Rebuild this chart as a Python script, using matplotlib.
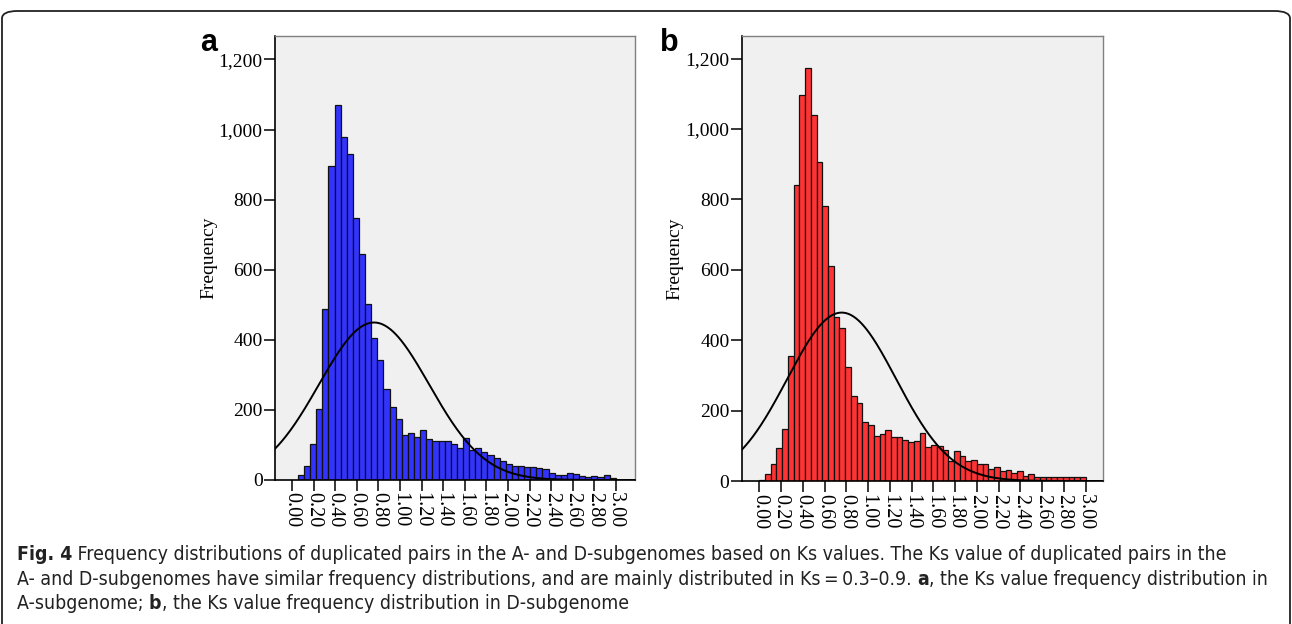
import numpy as np
import matplotlib
matplotlib.use('Agg')
import matplotlib.pyplot as plt
from matplotlib.patches import FancyBboxPatch

# Ks histograms (counts)
start_a = 0.055
width_a = 0.0566
counts_a = [14, 39, 104, 203, 487, 895, 1071, 978, 931, 747, 644, 502, 405, 343,
            260, 208, 175, 128, 135, 124, 143, 117, 110, 110, 110, 103, 92, 121,
            86, 90, 81, 70, 62, 55, 45, 41, 41, 36, 36, 33, 30, 21, 15, 15, 19,
            16, 12, 9, 10, 8, 14, 7]
mean_a = 0.76
sd_a = 0.51

start_b = 0.0
width_b = 3.0 / 57
counts_b = [4, 20, 48, 93, 149, 355, 842, 1096, 1172, 1039, 907, 780, 612, 466,
            434, 323, 242, 222, 168, 158, 128, 133, 145, 126, 126, 116, 112, 114,
            137, 97, 101, 99, 88, 56, 85, 71, 56, 60, 48, 48, 35, 41, 27, 31, 24,
            27, 15, 21, 12, 10, 10, 10, 12, 10, 10, 10, 10]
mean_b = 0.757
sd_b = 0.50

xticks = np.round(np.arange(0, 3.01, 0.2), 2)
yticks = [0, 200, 400, 600, 800, 1000, 1200]

caption = [
    [("Fig. 4", True), (" Frequency distributions of duplicated pairs in the A- and D-subgenomes based on Ks values. The Ks value of duplicated pairs in the", False)],
    [("A- and D-subgenomes have similar frequency distributions, and are mainly distributed in Ks\u2009=\u20090.3\u20130.9. ", False), ("a", True), (", the Ks value frequency distribution in", False)],
    [("A-subgenome; ", False), ("b", True), (", the Ks value frequency distribution in D-subgenome", False)],
]

W, H = 1292, 624
fig = plt.figure(figsize=(W / 100, H / 100), dpi=100)
serif = ['Liberation Serif', 'DejaVu Serif']


def panel(rect, start, width, counts, mu, sd, color, xlim, ylim, labx):
    ax = fig.add_axes(rect)
    ax.set_facecolor('#f0f0f0')
    edges = start + width * np.arange(len(counts))
    ax.bar(edges, counts, width=width, align='edge', color=color,
           edgecolor='#111111', linewidth=0.9, zorder=2)
    xs = np.linspace(xlim[0], xlim[1], 400)
    n = sum(counts)
    ys = n * width / (sd * np.sqrt(2 * np.pi)) * np.exp(-(xs - mu) ** 2 / (2 * sd ** 2))
    ax.plot(xs, ys, color='black', linewidth=1.4, zorder=3)
    ax.set_xlim(xlim)
    ax.set_ylim(ylim)
    ax.set_xticks(xticks)
    ax.set_xticklabels(['%.2f' % v for v in xticks], rotation=270,
                       family=serif, fontsize=14.5)
    ax.set_yticks(yticks)
    ax.set_yticklabels(['{:,}'.format(v) for v in yticks], family=serif, fontsize=14)
    ax.tick_params(axis='both', direction='out', length=8, width=1.1, pad=1, color='black')
    for s in ['left', 'bottom']:
        ax.spines[s].set_color('black')
        ax.spines[s].set_linewidth(1.2)
    for s in ['top', 'right']:
        ax.spines[s].set_color('#808080')
        ax.spines[s].set_linewidth(1.0)
    ax.set_ylabel('Frequency', family=serif, fontsize=14)
    ax.yaxis.set_label_coords(labx, 0.5)
    return ax


panel([275 / W, 1 - 480 / H, 360 / W, 444 / H], start_a, width_a, counts_a,
      mean_a, sd_a, '#3333ff', (-0.157, 3.176), (0, 1267), -0.161)
panel([742 / W, 1 - 481 / H, 361 / W, 445 / H], start_b, width_b, counts_b,
      mean_b, sd_b, '#ff3333', (-0.159, 3.159), (0, 1264), -0.163)

fig.text(200 / W, 1 - 51 / H, 'a', family=['Liberation Sans', 'DejaVu Sans'],
         fontweight='bold', fontsize=22, va='baseline')
fig.text(660 / W, 1 - 51 / H, 'b', family=['Liberation Sans', 'DejaVu Sans'],
         fontweight='bold', fontsize=22, va='baseline')

# outer frame with rounded corners
frame = FancyBboxPatch((2 / W, -0.1), (W - 4) / W, 1.1 - 11 / H,
                       boxstyle='round,pad=0,rounding_size=0.012',
                       transform=fig.transFigure, facecolor='none',
                       edgecolor='#222222', linewidth=1.3)
fig.patches.append(frame)

# caption, drawn piece by piece so parts can be bold
cap_font = ['DejaVu Sans']
r = fig.canvas.get_renderer()


def text_width(s, size, bold):
    t = fig.text(0, 0, s, fontsize=size, family=cap_font, fontstretch='condensed',
                 fontweight='bold' if bold else 'normal')
    w = t.get_window_extent(renderer=r).width
    t.remove()
    return w


def seg_width(s, size, bold):
    # pad with bars so leading/trailing spaces are counted
    return text_width('|' + s + '|', size, bold) - 2 * text_width('|', size, bold)


base = 10
w2 = sum(seg_width(s, base, b) for s, b in caption[1])
cap_size = base * 1251 / w2
baselines = [560, 585, 609]
for line, yb in zip(caption, baselines):
    x = 17
    for s, b in line:
        fig.text(x / W, 1 - yb / H, s, fontsize=cap_size, family=cap_font,
                 fontstretch='condensed',
                 fontweight='bold' if b else 'normal', va='baseline', ha='left',
                 color='#222222')
        x += seg_width(s, cap_size, b)

fig.savefig('out.png', dpi=100)
